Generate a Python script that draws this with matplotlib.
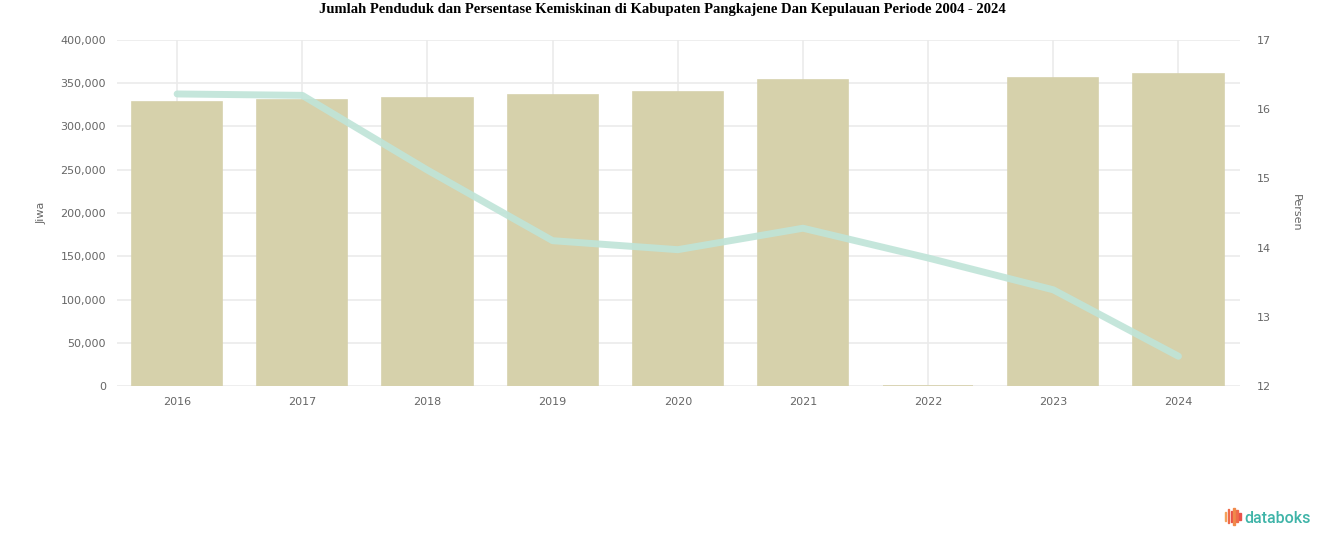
import matplotlib
matplotlib.use("Agg")
import matplotlib.pyplot as plt
from matplotlib.patches import Rectangle
from matplotlib.ticker import FuncFormatter

# Data
years = ['2016', '2017', '2018', '2019', '2020', '2021', '2022', '2023', '2024']
penduduk = [328300, 330600, 333000, 336400, 339900, 353800, 0, 356000, 360700]
kemiskinan = [16.22, 16.20, 15.12, 14.10, 13.97, 14.28, 13.85, 13.39, 12.43]

bar_color = '#d6d1ab'
line_color = '#bfe4d8'
grid_color = '#ebebeb'
tick_color = '#666666'

fig = plt.figure(figsize=(13.24, 5.47), dpi=100)
ax = fig.add_axes([0.0884, 0.2943, 0.848, 0.6326])
x = range(len(years))

ax.bar(x, penduduk, width=0.72, color=bar_color, edgecolor=bar_color,
       linewidth=1.2, zorder=2)
ax.set_xlim(-0.48, 8.49)
ax.set_ylim(0, 400000)
ax.set_yticks(range(0, 400001, 50000))
ax.yaxis.set_major_formatter(FuncFormatter(lambda v, p: f'{int(v):,}'))
ax.set_xticks(list(x))
ax.set_xticklabels(years)
ax.grid(True, color=grid_color, linewidth=1.2, zorder=0)
ax.set_axisbelow(True)
ax.tick_params(length=0, labelsize=8, colors=tick_color, pad=8)
for s in ax.spines.values():
    s.set_visible(False)
ax.set_ylabel('Jiwa', fontsize=8, color=tick_color, labelpad=10)

ax2 = ax.twinx()
ax2.plot(x, kemiskinan, color=line_color, linewidth=5, alpha=0.9,
         solid_capstyle='round', zorder=3)
ax2.set_ylim(12, 17)
ax2.set_yticks(range(12, 18))
ax2.tick_params(length=0, labelsize=8, colors=tick_color, pad=12)
for s in ax2.spines.values():
    s.set_visible(False)
ax2.set_ylabel('Persen', fontsize=8, color=tick_color, rotation=270, labelpad=22)

fig.text(0.5, 0.982, 'Jumlah Penduduk dan Persentase Kemiskinan di Kabupaten Pangkajene Dan Kepulauan Periode 2004 - 2024',
         ha='center', va='center', fontsize=10.5, fontweight='bold',
         family='Liberation Serif')

# databoks logo
logo_colors = ['#f4a259', '#ef6c4a', '#e8524a', '#f08a4b', '#ef6c4a', '#e8524a']
logo_h = [0.016, 0.026, 0.020, 0.030, 0.022, 0.014]
for i, (c, h) in enumerate(zip(logo_colors, logo_h)):
    fig.patches.append(Rectangle((0.9250 + i * 0.0022, 0.056 - h / 2), 0.0012, h,
                                 transform=fig.transFigure, color=c))
fig.text(0.9395, 0.052, 'databoks', ha='left', va='center', fontsize=11.5,
         color='#3fb4a8', family='Roboto', fontweight='medium')

fig.savefig('out.png', dpi=100)
